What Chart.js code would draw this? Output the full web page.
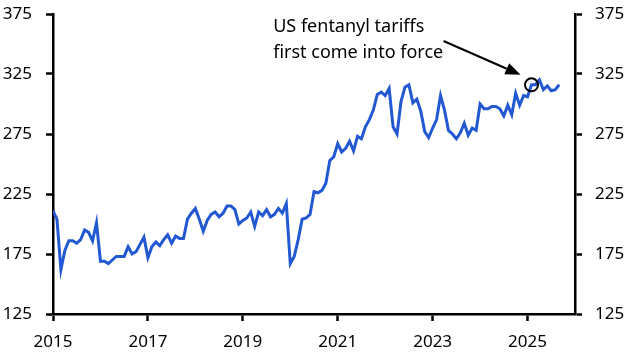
<!DOCTYPE html>
<html>
<head>
<meta charset="utf-8">
<script src="https://cdn.jsdelivr.net/npm/chart.js@4.4.0/dist/chart.umd.min.js"></script>
<style>
html, body { margin: 0; padding: 0; background: #fff; }
</style>
</head>
<body>
<canvas id="chart" width="625" height="362"></canvas>
<script>
// monthly values, Jan 2015 onwards
const startYear = 2015;
const values = [
  211, 204, 162, 178, 186, 186, 184, 187, 195, 193, 186, 201,
  169, 169, 167, 170, 173, 173, 173, 181, 175, 177, 183, 189,
  172, 181, 185, 182, 187, 191, 184, 190, 188, 188, 204, 209,
  213, 204, 194, 203, 208, 210, 206, 209, 215, 215, 212, 200,
  203, 205, 210, 198, 210, 207, 212, 206, 208, 213, 209, 217,
  167, 173, 187, 204, 205, 208, 227, 226, 228, 234, 253, 256,
  267, 260, 263, 269, 261, 273, 271, 281, 287, 295, 308, 310,
  307, 313, 281, 275, 302, 314, 316, 301, 304, 294, 277, 272,
  280, 287, 307, 295, 278, 275, 271, 276, 284, 274, 280, 278,
  300, 296, 296, 298, 298, 296, 290, 299, 291, 309, 299, 307,
  306, 316, 316, 320, 312, 315, 311, 312, 316
];
const yTicks = [125, 175, 225, 275, 325, 375];
const xTicks = [2015, 2017, 2019, 2021, 2023, 2025];
const noteLines = ['US fentanyl tariffs', 'first come into force'];
const noteIndex = 121; // Feb 2025

const points = values.map((v, i) => ({ x: startYear + i / 12, y: v }));

Chart.defaults.font.family = '"Noto Sans", sans-serif';
Chart.defaults.font.size = 17;
Chart.defaults.color = '#000';

const notePlugin = {
  id: 'note',
  afterDatasetsDraw(chart) {
    const { ctx, scales: { x, y } } = chart;
    const pt = chart.getDatasetMeta(0).data[noteIndex];
    ctx.save();
    ctx.strokeStyle = '#000';
    ctx.fillStyle = '#000';
    ctx.lineWidth = 2;
    ctx.beginPath();
    ctx.arc(pt.x, pt.y, 6.5, 0, Math.PI * 2);
    ctx.stroke();

    // arrow from the text to the circle
    const x0 = x.getPixelForValue(2023.23), y0 = y.getPixelForValue(352.5);
    const x1 = pt.x - 11, y1 = pt.y - 10;
    const ang = Math.atan2(y1 - y0, x1 - x0);
    const len = 15, half = 6;
    const bx = x1 - len * Math.cos(ang), by = y1 - len * Math.sin(ang);
    ctx.beginPath();
    ctx.moveTo(x0, y0);
    ctx.lineTo(bx, by);
    ctx.stroke();
    ctx.beginPath();
    ctx.moveTo(x1, y1);
    ctx.lineTo(bx + half * Math.sin(ang), by - half * Math.cos(ang));
    ctx.lineTo(bx - half * Math.sin(ang), by + half * Math.cos(ang));
    ctx.closePath();
    ctx.fill();

    ctx.font = '18px "Noto Sans", sans-serif';
    ctx.textAlign = 'left';
    ctx.textBaseline = 'alphabetic';
    const tx = x.getPixelForValue(2019.64);
    ctx.fillText(noteLines[0], tx, y.getPixelForValue(360));
    ctx.fillText(noteLines[1], tx, y.getPixelForValue(338.5));
    ctx.restore();
  }
};

const axisGrid = {
  drawOnChartArea: false,
  drawTicks: true,
  tickLength: 7,
  tickWidth: 2.5,
  tickColor: '#000'
};
const axisBorder = { display: true, width: 2.5, color: '#000' };

function fitY(width) {
  return (s) => {
    s.width = width;
    s.paddingTop = 0;
    s.paddingBottom = 0;
  };
}

new Chart(document.getElementById('chart'), {
  type: 'line',
  data: {
    datasets: [{
      data: points,
      borderColor: '#2358d3',
      borderWidth: 3,
      pointRadius: 0,
      tension: 0,
      fill: false
    }]
  },
  options: {
    responsive: false,
    animation: false,
    layout: { padding: { top: 14, left: 0, right: 0, bottom: 0 } },
    plugins: { legend: { display: false }, tooltip: { enabled: false } },
    scales: {
      x: {
        type: 'linear',
        min: 2015,
        max: 2026,
        grid: axisGrid,
        border: axisBorder,
        afterBuildTicks: (s) => { s.ticks = xTicks.map(v => ({ value: v })); },
        ticks: { padding: 11, maxRotation: 0, callback: (v) => String(v) },
        afterFit: (s) => { s.height = 48; s.paddingLeft = 0; s.paddingRight = 0; }
      },
      y: {
        position: 'left',
        min: 125,
        max: 375,
        grid: axisGrid,
        border: axisBorder,
        afterBuildTicks: (s) => { s.ticks = yTicks.map(v => ({ value: v })); },
        ticks: { padding: 14 },
        afterFit: fitY(53)
      },
      y2: {
        position: 'right',
        min: 125,
        max: 375,
        grid: axisGrid,
        border: axisBorder,
        afterBuildTicks: (s) => { s.ticks = yTicks.map(v => ({ value: v })); },
        ticks: { padding: 13 },
        afterFit: fitY(50)
      }
    }
  },
  plugins: [notePlugin]
});
</script>
</body>
</html>
